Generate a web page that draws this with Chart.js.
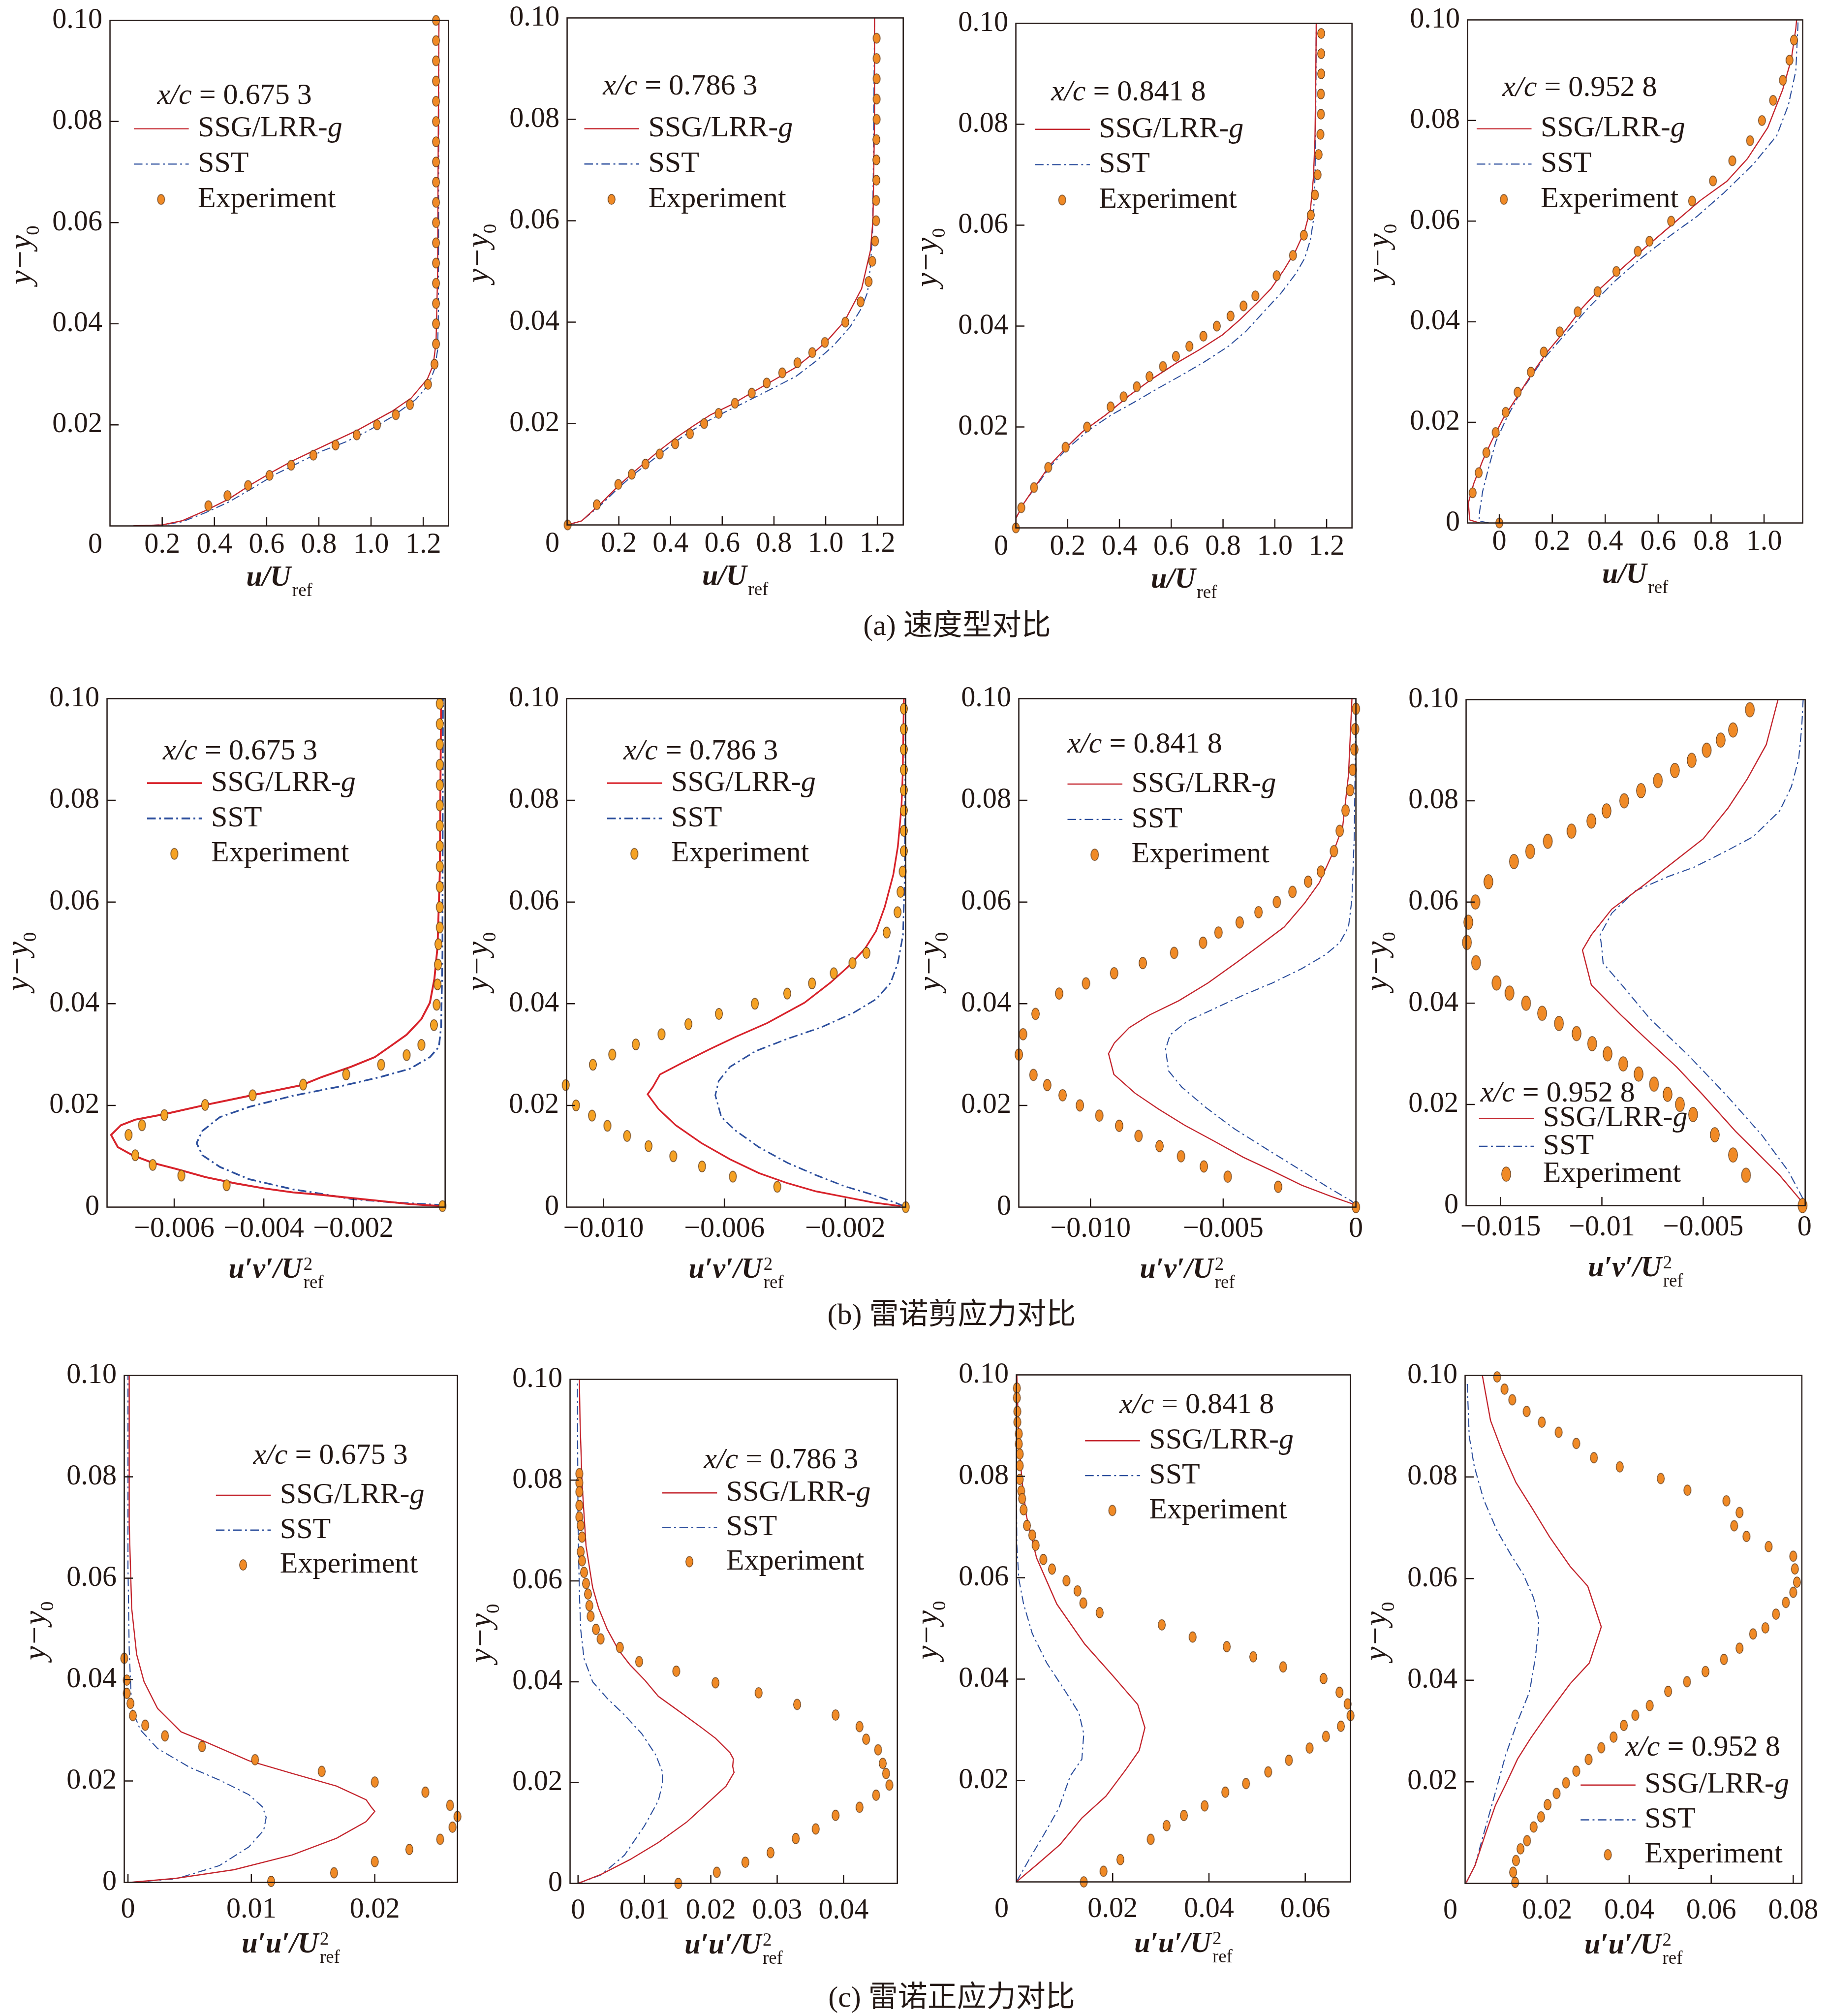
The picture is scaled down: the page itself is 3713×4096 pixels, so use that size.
<!DOCTYPE html>
<html>
<head>
<meta charset="utf-8">
<script src="https://cdn.jsdelivr.net/npm/chart.js@4.4.0/dist/chart.umd.min.js"></script>
<style>
html, body { margin: 0; padding: 0; background: #fff; }
body { width: 3713px; height: 4096px; position: relative; overflow: hidden; }
canvas { position: absolute; }
.cap { position: absolute; transform: translate(-50%, -50%); white-space: nowrap; line-height: 1;
  font-size: 60px; color: #231815; font-family: "Liberation Serif", serif; }
.cap span { font-family: "Noto Sans CJK SC", sans-serif; }
</style>
</head>
<body>
<div class="cap" style="left:1945px;top:1267px">(a) <span>速度型对比</span></div>
<div class="cap" style="left:1934px;top:2667px">(b) <span>雷诺剪应力对比</span></div>
<div class="cap" style="left:1934px;top:4054px">(c) <span>雷诺正应力对比</span></div>
<script>
// x/c stations
const stations = ['0.675 3', '0.786 3', '0.841 8', '0.952 8'];

const yTicks = [0, 0.02, 0.04, 0.06, 0.08, 0.10];
const yLabels = ['0', '0.02', '0.04', '0.06', '0.08', '0.10'];

const xTicksA = [0.2, 0.4, 0.6, 0.8, 1.0, 1.2];
const xLabelsA = ['0.2', '0.4', '0.6', '0.8', '1.0', '1.2'];
const xTicksA4 = [0, 0.2, 0.4, 0.6, 0.8, 1.0];
const xLabelsA4 = ['0', '0.2', '0.4', '0.6', '0.8', '1.0'];
const xTicksB1 = [-0.006, -0.004, -0.002];
const xLabelsB1 = ['\u22120.006', '\u22120.004', '\u22120.002'];
const xTicksB2 = [-0.010, -0.006, -0.002];
const xLabelsB2 = ['\u22120.010', '\u22120.006', '\u22120.002'];
const xTicksB3 = [-0.010, -0.005, 0];
const xLabelsB3 = ['\u22120.010', '\u22120.005', '0'];
const xTicksB4 = [-0.015, -0.01, -0.005, 0];
const xLabelsB4 = ['\u22120.015', '\u22120.01', '\u22120.005', '0'];
const xTicksC1 = [0, 0.01, 0.02];
const xLabelsC1 = ['0', '0.01', '0.02'];
const xTicksC2 = [0, 0.01, 0.02, 0.03, 0.04];
const xLabelsC2 = ['0', '0.01', '0.02', '0.03', '0.04'];
const xTicksC3 = [0.02, 0.04, 0.06];
const xLabelsC3 = ['0.02', '0.04', '0.06'];
const xTicksC4 = [0.02, 0.04, 0.06, 0.08];
const xLabelsC4 = ['0.02', '0.04', '0.06', '0.08'];

// (a) velocity profiles u/Uref vs y-y0
const expA1 = [[1.249,0.100],[1.249,0.096],[1.249,0.092],[1.249,0.088],[1.249,0.084],[1.249,0.080],[1.249,0.076],[1.249,0.072],[1.249,0.068],[1.249,0.064],[1.249,0.060],[1.249,0.056],[1.249,0.052],[1.249,0.048],[1.249,0.044],[1.249,0.040],[1.249,0.036],[1.243,0.032],[1.218,0.028],[1.149,0.024],[1.095,0.022],[1.023,0.020],[0.945,0.018],[0.864,0.016],[0.779,0.014],[0.694,0.012],[0.611,0.010],[0.529,0.008],[0.450,0.006],[0.377,0.004]];
const ssgA1 = [[0.09,0],[0.2,0.0002],[0.275,0.001],[0.365,0.003],[0.454,0.0053],[0.544,0.0083],[0.633,0.011],[0.70,0.0129],[0.79,0.0151],[0.868,0.017],[0.947,0.0189],[1.014,0.0208],[1.081,0.0227],[1.154,0.0253],[1.216,0.0291],[1.238,0.0318],[1.249,0.0363],[1.255,0.05],[1.257,0.0726],[1.26,0.1]];
const sstA1 = [[0.09,0],[0.2,0.0002],[0.275,0.0008],[0.365,0.0026],[0.454,0.0047],[0.544,0.0074],[0.633,0.0102],[0.723,0.0125],[0.812,0.0148],[0.902,0.0166],[0.992,0.0189],[1.081,0.0216],[1.171,0.025],[1.221,0.028],[1.243,0.031],[1.255,0.0348],[1.258,0.0424],[1.26,0.1]];

const expA2 = [[1.197,0.096],[1.197,0.092],[1.197,0.088],[1.197,0.084],[1.197,0.080],[1.196,0.076],[1.196,0.072],[1.196,0.068],[1.195,0.064],[1.195,0.060],[1.191,0.056],[1.180,0.052],[1.166,0.048],[1.135,0.044],[1.076,0.040],[0.997,0.036],[0.948,0.034],[0.891,0.032],[0.832,0.030],[0.772,0.028],[0.714,0.026],[0.649,0.024],[0.586,0.022],[0.530,0.020],[0.475,0.018],[0.418,0.016],[0.358,0.014],[0.303,0.012],[0.250,0.010],[0.198,0.008],[0.115,0.004],[0.002,0.000]];
const ssgA2 = [[0,0],[0.056,0.0008],[0.134,0.0044],[0.2,0.0078],[0.266,0.0108],[0.355,0.0146],[0.421,0.0172],[0.487,0.0195],[0.554,0.0217],[0.631,0.0236],[0.708,0.0259],[0.797,0.0285],[0.885,0.0311],[0.951,0.0338],[1.007,0.0364],[1.073,0.0402],[1.139,0.0466],[1.173,0.0541],[1.183,0.0602],[1.189,0.0798],[1.189,0.1]];
const sstA2 = [[0,0],[0.056,0.0008],[0.134,0.0041],[0.2,0.0074],[0.266,0.0103],[0.355,0.0138],[0.443,0.0173],[0.532,0.0202],[0.62,0.0225],[0.708,0.0247],[0.797,0.027],[0.885,0.0293],[0.962,0.0323],[1.029,0.0353],[1.095,0.0391],[1.139,0.0428],[1.162,0.0459],[1.173,0.0511],[1.181,0.0572],[1.184,0.0685],[1.186,0.0798],[1.189,0.1]];

const expA3 = [[1.179,0.098],[1.179,0.094],[1.179,0.090],[1.178,0.086],[1.178,0.082],[1.176,0.078],[1.169,0.074],[1.165,0.070],[1.155,0.066],[1.139,0.062],[1.112,0.058],[1.070,0.054],[1.007,0.050],[0.925,0.046],[0.879,0.044],[0.829,0.042],[0.776,0.040],[0.724,0.038],[0.670,0.036],[0.618,0.034],[0.568,0.032],[0.516,0.030],[0.467,0.028],[0.416,0.026],[0.366,0.024],[0.275,0.020],[0.192,0.016],[0.125,0.012],[0.070,0.008],[0.021,0.004],[0,0]];
const ssgA3 = [[0,0],[0,0.0019],[0.031,0.0049],[0.076,0.0083],[0.132,0.0125],[0.194,0.0159],[0.256,0.019],[0.347,0.0224],[0.437,0.0262],[0.528,0.0296],[0.618,0.0326],[0.708,0.0353],[0.799,0.0383],[0.866,0.0413],[0.934,0.0447],[0.985,0.0474],[1.036,0.0512],[1.081,0.055],[1.115,0.0588],[1.138,0.0633],[1.149,0.0694],[1.155,0.077],[1.158,0.0883],[1.16,0.1]];
const sstA3 = [[0,0],[0,0.0019],[0.031,0.0049],[0.076,0.0081],[0.132,0.0121],[0.194,0.0155],[0.279,0.0193],[0.369,0.0224],[0.46,0.025],[0.55,0.0277],[0.641,0.0303],[0.731,0.033],[0.821,0.036],[0.889,0.039],[0.957,0.0428],[1.025,0.0466],[1.081,0.0504],[1.115,0.0534],[1.138,0.0572],[1.149,0.061],[1.155,0.0694],[1.158,0.0807],[1.16,0.1]];

const expA4 = [[0,0],[-0.101,0.006],[-0.078,0.010],[-0.049,0.014],[-0.014,0.018],[0.024,0.022],[0.069,0.026],[0.119,0.030],[0.168,0.034],[0.228,0.038],[0.296,0.042],[0.371,0.046],[0.442,0.050],[0.523,0.054],[0.567,0.056],[0.649,0.060],[0.728,0.064],[0.807,0.068],[0.880,0.072],[0.947,0.076],[0.992,0.080],[1.034,0.084],[1.071,0.088],[1.096,0.092],[1.113,0.096]];
const ssgA4 = [[-0.074,0],[-0.112,0.0006],[-0.117,0.004],[-0.097,0.0078],[-0.063,0.0124],[-0.03,0.0162],[0.014,0.0207],[0.07,0.0253],[0.126,0.0299],[0.181,0.034],[0.248,0.0382],[0.314,0.0428],[0.381,0.0466],[0.459,0.0504],[0.548,0.0546],[0.648,0.0591],[0.759,0.0641],[0.859,0.0679],[0.937,0.0724],[1.014,0.0786],[1.07,0.0861],[1.103,0.0922],[1.12,0.0983],[1.123,0.1]];
const sstA4 = [[-0.04,0],[-0.077,0.0004],[-0.074,0.0025],[-0.063,0.0063],[-0.041,0.0109],[-0.013,0.0162],[0.026,0.0207],[0.081,0.0261],[0.159,0.0321],[0.248,0.0375],[0.337,0.0428],[0.437,0.0481],[0.537,0.0527],[0.648,0.0572],[0.748,0.061],[0.848,0.0656],[0.959,0.0713],[1.048,0.077],[1.092,0.0831],[1.12,0.0899],[1.128,0.099],[1.128,0.1]];

// (b) Reynolds shear stress u'v'/Uref^2
const expB1 = [[-0.00007,0.099],[-0.00007,0.095],[-0.00007,0.091],[-0.00007,0.087],[-0.00007,0.083],[-0.00007,0.079],[-0.00007,0.075],[-0.00007,0.071],[-0.00007,0.067],[-0.00007,0.063],[-0.00007,0.059],[-0.00007,0.055],[-0.0001,0.0517],[-0.00011,0.0477],[-0.00012,0.0438],[-0.00014,0.0398],[-0.0002,0.0358],[-0.00048,0.0319],[-0.00081,0.0299],[-0.00138,0.028],[-0.00216,0.0261],[-0.00312,0.0241],[-0.00425,0.022],[-0.00531,0.0201],[-0.00622,0.0181],[-0.00672,0.0161],[-0.00702,0.0142],[-0.00687,0.0102],[-0.00648,0.0083],[-0.00584,0.0062],[-0.00483,0.0043],[-0.00001,0.0002]];
const ssgB1 = [[-0.00003,0.0002],[-0.00074,0.0006],[-0.00139,0.0012],[-0.00205,0.0018],[-0.0027,0.0024],[-0.00335,0.0029],[-0.004,0.0037],[-0.00465,0.0047],[-0.0053,0.0059],[-0.00595,0.0075],[-0.00648,0.0087],[-0.00693,0.0102],[-0.00726,0.0118],[-0.00741,0.0142],[-0.00719,0.0161],[-0.00687,0.0172],[-0.00621,0.0183],[-0.0053,0.0201],[-0.00426,0.022],[-0.00315,0.024],[-0.0027,0.0256],[-0.00205,0.0276],[-0.00152,0.0295],[-0.00113,0.0319],[-0.00081,0.0339],[-0.00048,0.037],[-0.00029,0.0402],[-0.00019,0.0449],[-0.00012,0.0512],[-0.00007,0.0654],[-0.00004,0.0992]];
const sstB1 = [[0,0.0004],[-0.00107,0.0009],[-0.00205,0.0016],[-0.0027,0.0026],[-0.00335,0.0035],[-0.00433,0.0055],[-0.00498,0.0079],[-0.00537,0.0102],[-0.0055,0.0126],[-0.00537,0.015],[-0.00498,0.0177],[-0.00433,0.0197],[-0.00335,0.0219],[-0.00237,0.0236],[-0.00139,0.0256],[-0.00074,0.0272],[-0.00029,0.0295],[-0.00009,0.0315],[-0.00004,0.0354],[-0.00001,0.0496],[0,0.1]];

const expB2 = [[-0.00006,0.098],[-0.00006,0.094],[-0.00006,0.090],[-0.00006,0.086],[-0.00006,0.082],[-0.00006,0.078],[-0.00006,0.074],[-0.00006,0.070],[-0.0001,0.066],[-0.00017,0.062],[-0.00027,0.058],[-0.00063,0.054],[-0.0013,0.050],[-0.00176,0.048],[-0.00238,0.046],[-0.0031,0.044],[-0.00392,0.042],[-0.00499,0.040],[-0.00618,0.038],[-0.00719,0.036],[-0.00808,0.034],[-0.00893,0.032],[-0.00971,0.030],[-0.01035,0.028],[-0.01125,0.024],[-0.01091,0.020],[-0.01038,0.018],[-0.00987,0.016],[-0.00922,0.014],[-0.00851,0.012],[-0.00769,0.010],[-0.00674,0.008],[-0.00572,0.006],[-0.00425,0.004],[0,0]];
const ssgB2 = [[-0.00017,0.0002],[-0.00107,0.0009],[-0.00202,0.002],[-0.00297,0.0031],[-0.00391,0.0047],[-0.00486,0.0067],[-0.00581,0.0094],[-0.00676,0.0126],[-0.00761,0.0161],[-0.00818,0.0193],[-0.00854,0.0222],[-0.00837,0.0236],[-0.00813,0.0261],[-0.00742,0.0283],[-0.00647,0.0311],[-0.00562,0.0335],[-0.00458,0.0362],[-0.00335,0.0402],[-0.0025,0.0441],[-0.00192,0.0472],[-0.00135,0.0508],[-0.00098,0.0543],[-0.00069,0.0591],[-0.00041,0.0654],[-0.00026,0.0709],[-0.00014,0.0787],[-0.0001,0.085],[-0.00006,0.1]];
const sstB2 = [[-0.00007,0.0002],[-0.00031,0.0008],[-0.00107,0.0024],[-0.00202,0.0041],[-0.00297,0.0063],[-0.00391,0.0087],[-0.00486,0.0118],[-0.00562,0.015],[-0.0061,0.0177],[-0.0063,0.022],[-0.00619,0.0248],[-0.00581,0.0276],[-0.00496,0.0307],[-0.00391,0.0331],[-0.00278,0.0354],[-0.00173,0.0382],[-0.00098,0.0409],[-0.0005,0.0441],[-0.00026,0.048],[-0.00009,0.0535],[-0.00003,0.0654],[0,0.1]];

const expB3 = [[0,0.098],[-0.00003,0.094],[-0.00006,0.090],[-0.00012,0.086],[-0.00022,0.082],[-0.00039,0.078],[-0.00061,0.074],[-0.00083,0.070],[-0.00132,0.066],[-0.0018,0.064],[-0.00239,0.062],[-0.00298,0.060],[-0.00367,0.058],[-0.00438,0.056],[-0.00518,0.054],[-0.00576,0.052],[-0.00685,0.050],[-0.00803,0.048],[-0.00911,0.046],[-0.01017,0.044],[-0.01118,0.042],[-0.01207,0.038],[-0.01254,0.034],[-0.0127,0.030],[-0.01215,0.026],[-0.01163,0.024],[-0.01105,0.022],[-0.0104,0.020],[-0.00967,0.018],[-0.00892,0.016],[-0.00819,0.014],[-0.0074,0.012],[-0.00659,0.010],[-0.00573,0.008],[-0.00483,0.006],[-0.00293,0.004],[0,0]];
const ssgB3 = [[0,0.0004],[-0.00093,0.0021],[-0.00204,0.0043],[-0.00314,0.0071],[-0.00424,0.0098],[-0.00535,0.013],[-0.00645,0.0161],[-0.00744,0.0193],[-0.00832,0.0224],[-0.00912,0.0261],[-0.00932,0.0302],[-0.0091,0.0323],[-0.00854,0.0353],[-0.00777,0.0378],[-0.00667,0.0406],[-0.00557,0.0441],[-0.00447,0.0482],[-0.00369,0.0512],[-0.0027,0.0551],[-0.00193,0.0598],[-0.00138,0.0638],[-0.00083,0.0701],[-0.0005,0.0748],[-0.00028,0.085],[-0.00015,0.1]];
const sstB3 = [[0,0.0004],[-0.00017,0.0012],[-0.00105,0.0039],[-0.00215,0.0075],[-0.00336,0.0114],[-0.00458,0.0154],[-0.00568,0.0197],[-0.00656,0.0236],[-0.00706,0.0268],[-0.00717,0.0311],[-0.007,0.0339],[-0.00634,0.0366],[-0.00535,0.039],[-0.00424,0.0417],[-0.00314,0.0441],[-0.00204,0.0469],[-0.00116,0.0496],[-0.00061,0.052],[-0.00028,0.0551],[-0.00015,0.0606],[-0.00006,0.0732],[0,0.1]];

const expB4 = [[-0.0027,0.098],[-0.00353,0.094],[-0.00414,0.092],[-0.00483,0.090],[-0.00557,0.088],[-0.0064,0.086],[-0.00724,0.084],[-0.00807,0.082],[-0.0089,0.080],[-0.00977,0.078],[-0.01052,0.076],[-0.0115,0.074],[-0.01267,0.072],[-0.01354,0.070],[-0.01434,0.068],[-0.0156,0.064],[-0.01624,0.060],[-0.01659,0.056],[-0.01666,0.052],[-0.01621,0.048],[-0.0152,0.044],[-0.01456,0.042],[-0.01374,0.040],[-0.01295,0.038],[-0.01212,0.036],[-0.01125,0.034],[-0.01048,0.032],[-0.00972,0.030],[-0.00895,0.028],[-0.00819,0.026],[-0.00743,0.024],[-0.00676,0.022],[-0.00615,0.020],[-0.0055,0.018],[-0.00443,0.014],[-0.00353,0.010],[-0.00289,0.006],[-0.0001,0]];
const ssgB4 = [[-0.00007,0.0005],[-0.00123,0.006],[-0.00341,0.0147],[-0.005,0.0218],[-0.00631,0.0274],[-0.00791,0.0333],[-0.00907,0.0377],[-0.01052,0.0436],[-0.01096,0.0505],[-0.01052,0.0535],[-0.00951,0.0586],[-0.00791,0.0634],[-0.00653,0.0677],[-0.005,0.0725],[-0.00377,0.0786],[-0.00283,0.0843],[-0.00189,0.0911],[-0.00131,0.1]];
const sstB4 = [[-0.00007,0.0013],[-0.0008,0.0068],[-0.0021,0.0139],[-0.00385,0.0218],[-0.00573,0.0297],[-0.00762,0.0369],[-0.00893,0.0432],[-0.00994,0.0479],[-0.01001,0.0511],[-0.01009,0.0535],[-0.00951,0.0578],[-0.00835,0.0622],[-0.00675,0.065],[-0.00544,0.0669],[-0.00385,0.0701],[-0.00254,0.0729],[-0.00123,0.078],[-0.00065,0.0828],[-0.00029,0.0883],[-0.00014,0.0946],[-0.00007,0.1]];

// (c) Reynolds normal stress u'u'/Uref^2
const expC1 = [[-0.0003,0.0442],[-0.0001,0.0399],[-0.0001,0.0373],[0.0002,0.0353],[0.0004,0.0329],[0.0014,0.031],[0.003,0.0289],[0.006,0.0268],[0.0103,0.0242],[0.0157,0.0219],[0.02,0.0198],[0.0241,0.0178],[0.0261,0.0152],[0.0267,0.013],[0.0263,0.0109],[0.0253,0.0085],[0.0228,0.0065],[0.02,0.0041],[0.0167,0.0019],[0.0116,0.0002]];
const ssgC1 = [[0.0002,0],[0.0039,0.0008],[0.0086,0.0025],[0.0133,0.0054],[0.0169,0.0087],[0.0193,0.012],[0.02,0.014],[0.0197,0.0149],[0.0193,0.0163],[0.0169,0.019],[0.0133,0.0215],[0.0098,0.024],[0.0062,0.0278],[0.0043,0.0297],[0.0024,0.0343],[0.0013,0.0396],[0.0007,0.045],[0.0003,0.0541],[0.0001,0.0706],[0.0001,0.1]];
const sstC1 = [[0.0002,0],[0.0039,0.0007],[0.0074,0.0033],[0.0098,0.007],[0.011,0.0103],[0.0112,0.0128],[0.0109,0.0149],[0.0098,0.0173],[0.0074,0.0202],[0.005,0.0227],[0.0024,0.0264],[0.001,0.0301],[0.0003,0.0343],[0.0001,0.0458],[0,0.0623],[0,0.1]];

const expC2 = [[0.0002,0.0813],[0.0002,0.0795],[0.0002,0.0777],[0.0002,0.075],[0.0002,0.0727],[0.0004,0.071],[0.0006,0.0687],[0.0004,0.0658],[0.0006,0.064],[0.0009,0.0617],[0.0012,0.0595],[0.0015,0.0574],[0.0017,0.0551],[0.0019,0.053],[0.0027,0.0504],[0.0034,0.0485],[0.0063,0.0468],[0.0092,0.044],[0.0148,0.0421],[0.0207,0.0398],[0.0272,0.0378],[0.033,0.0355],[0.0388,0.0334],[0.0424,0.0311],[0.0434,0.0286],[0.0452,0.0265],[0.0459,0.0238],[0.0464,0.0218],[0.0469,0.0195],[0.0449,0.0175],[0.0424,0.0151],[0.0388,0.0135],[0.0358,0.0108],[0.0328,0.0089],[0.029,0.0061],[0.0252,0.0042],[0.0209,0.0022],[0.0151,0]];
const ssgC2 = [[0,0],[0.0035,0.0018],[0.0078,0.0047],[0.0121,0.0081],[0.0164,0.0122],[0.0199,0.0164],[0.0223,0.0193],[0.0235,0.022],[0.0233,0.0232],[0.0234,0.0247],[0.0229,0.0259],[0.0207,0.0288],[0.0186,0.0309],[0.0156,0.0338],[0.0121,0.0371],[0.01,0.0404],[0.0078,0.0434],[0.0061,0.0463],[0.0044,0.0504],[0.0031,0.0546],[0.0022,0.0587],[0.0012,0.067],[0.0006,0.0795],[0.0003,0.0919],[0.0002,0.1]];
const sstC2 = [[0,0],[0.0035,0.0017],[0.007,0.0056],[0.01,0.0114],[0.0121,0.0164],[0.0127,0.0197],[0.0127,0.0222],[0.0117,0.0255],[0.0096,0.0297],[0.007,0.0334],[0.0044,0.0367],[0.0022,0.04],[0.0009,0.0446],[0.0004,0.0504],[0.0002,0.0579],[0,0.0712],[-0.0001,0.1]];

const expC3 = [[0.0001,0.0974],[0.0001,0.0955],[0.0002,0.0928],[0.0002,0.0907],[0.0005,0.0884],[0.0005,0.0864],[0.0007,0.0844],[0.0007,0.0821],[0.0007,0.0794],[0.001,0.0771],[0.0012,0.0756],[0.0015,0.0734],[0.0022,0.0703],[0.0033,0.0684],[0.004,0.0664],[0.0056,0.0636],[0.0074,0.0617],[0.0104,0.0594],[0.0127,0.0574],[0.0139,0.055],[0.0173,0.0531],[0.0302,0.0507],[0.0366,0.0483],[0.0437,0.0464],[0.0492,0.0444],[0.0554,0.0424],[0.0638,0.0401],[0.0671,0.0374],[0.0688,0.0351],[0.0694,0.0328],[0.0674,0.0307],[0.0643,0.0287],[0.0609,0.0264],[0.0566,0.024],[0.0523,0.0217],[0.0477,0.0194],[0.0434,0.0177],[0.0391,0.015],[0.0348,0.0131],[0.0312,0.0111],[0.0279,0.0084],[0.0216,0.0044],[0.0181,0.0021],[0.014,0]];
const ssgC3 = [[0,0],[0.0045,0.0036],[0.0091,0.0074],[0.0136,0.0126],[0.0186,0.0169],[0.0227,0.0221],[0.0255,0.0259],[0.0267,0.0304],[0.0252,0.035],[0.02,0.0407],[0.0142,0.0469],[0.0084,0.0548],[0.0042,0.0639],[0.0021,0.0721],[0.0012,0.0788],[0.0005,0.087],[0.0001,0.1]];
const sstC3 = [[0,0],[0.0027,0.0045],[0.0057,0.0093],[0.0088,0.0145],[0.0112,0.0209],[0.0136,0.0242],[0.014,0.0292],[0.013,0.0333],[0.0103,0.0374],[0.0063,0.0432],[0.0033,0.049],[0.0015,0.0548],[0.0005,0.0598],[0.0001,0.0664],[0,0.08],[0,0.1]];

const expC4 = [[0.0078,0.0997],[0.0096,0.0973],[0.0115,0.0952],[0.015,0.0929],[0.0187,0.0908],[0.0228,0.0888],[0.0271,0.0866],[0.0314,0.0838],[0.0377,0.082],[0.0477,0.0797],[0.0542,0.0774],[0.0637,0.0753],[0.0669,0.073],[0.0656,0.0704],[0.0686,0.0683],[0.074,0.0663],[0.08,0.0644],[0.0804,0.0619],[0.0809,0.0593],[0.08,0.0573],[0.0782,0.0553],[0.0758,0.053],[0.0732,0.0503],[0.0702,0.0491],[0.0669,0.0463],[0.0631,0.0441],[0.0586,0.0417],[0.0541,0.0397],[0.0495,0.0378],[0.045,0.035],[0.0415,0.0331],[0.0387,0.0311],[0.0362,0.0288],[0.0332,0.0267],[0.0301,0.0244],[0.0271,0.0221],[0.0246,0.0198],[0.0223,0.0177],[0.0201,0.0155],[0.0185,0.0131],[0.0167,0.0111],[0.0151,0.0084],[0.0135,0.0068],[0.0124,0.0045],[0.0117,0.0022],[0.0122,0.0002]];
const ssgC4 = [[0.0003,0.0002],[0.0024,0.0035],[0.0049,0.0096],[0.0074,0.0154],[0.0099,0.0195],[0.0128,0.0245],[0.016,0.0286],[0.0199,0.0331],[0.0256,0.0393],[0.0303,0.0434],[0.0332,0.0505],[0.0299,0.0585],[0.0256,0.0624],[0.0206,0.0682],[0.0163,0.0739],[0.0124,0.0789],[0.0092,0.0847],[0.0062,0.0911],[0.0042,0.1]];
const sstC4 = [[0.0003,0.0002],[0.0024,0.0035],[0.0042,0.0088],[0.0071,0.0171],[0.0099,0.0253],[0.0128,0.0319],[0.0157,0.0377],[0.0171,0.0443],[0.0179,0.05],[0.0179,0.0521],[0.0167,0.0562],[0.0142,0.0608],[0.0113,0.0645],[0.0078,0.0694],[0.0045,0.0756],[0.0022,0.0822],[0.001,0.088],[0.0005,0.0987]];

// ---------------------------------------------------------------
const S = 0.97;
const INK = '#231815';
const BLUE = '#2d4f9d';
const SERIF = '"Liberation Serif", "Times New Roman", serif';
const font = (px, style) => (style ? style + ' ' : '') + (px * S).toFixed(1) + 'px ' + SERIF;

const rowStyle = {
  a: { tickOff: 40, titleOff: 125, yOff: -38, xName: 'u/U', sup: '' },
  b: { tickOff: 47, titleOff: 148, yOff: 18, xName: 'u\u2032v\u2032/U', sup: '2' },
  c: { tickOff: 58, titleOff: 147, yOff: 4, xName: 'u\u2032u\u2032/U', sup: '2' }
};

// box: plot area in reference pixels [left, top, right, bottom]; leg: [titleX, titleY, lineX, row1Y, rowStep]
const panels = [
  { row: 'a', st: 0, exp: expA1, ssg: ssgA1, sst: sstA1, box: [230, 31, 939, 1102], xr: [0, 1.297], xt: xTicksA, xl: xLabelsA, corner: true, leg: [329, 202, 280, 270, 74], lw: 2.5, dot: [16, 22] },
  { row: 'a', st: 1, exp: expA2, ssg: ssgA2, sst: sstA2, box: [1188, 26, 1892, 1100], xr: [0, 1.3], xt: xTicksA, xl: xLabelsA, corner: true, leg: [1263, 182, 1224, 270, 74], lw: 2.5, dot: [16, 22] },
  { row: 'a', st: 2, exp: expA3, ssg: ssgA3, sst: sstA3, box: [2128, 37, 2832, 1106], xr: [0, 1.298], xt: xTicksA, xl: xLabelsA, corner: true, leg: [2202, 194, 2168, 271, 74], lw: 2.5, dot: [16, 22] },
  { row: 'a', st: 3, exp: expA4, ssg: ssgA4, sst: sstA4, box: [3075, 30, 3777, 1096], xr: [-0.12, 1.146], xt: xTicksA4, xl: xLabelsA4, corner: false, leg: [3148, 185, 3094, 270, 74], lw: 2.5, dot: [16, 22] },
  { row: 'b', st: 0, exp: expB1, ssg: ssgB1, sst: sstB1, box: [224, 1451, 932, 2528], xr: [-0.0075, 0.00005], xt: xTicksB1, xl: xLabelsB1, corner: false, leg: [341, 1574, 308, 1640, 74], lw: 4, dot: [16, 24], fill: '#f5a224', red: '#d8232b' },
  { row: 'b', st: 1, exp: expB2, ssg: ssgB2, sst: sstB2, box: [1187, 1451, 1897, 2528], xr: [-0.01122, 0], xt: xTicksB2, xl: xLabelsB2, corner: false, leg: [1306, 1574, 1272, 1640, 74], lw: 3.5, dot: [16, 24], fill: '#f5a224', red: '#d8232b' },
  { row: 'b', st: 2, exp: expB3, ssg: ssgB3, sst: sstB3, box: [2135, 1451, 2841, 2528], xr: [-0.0127, 0], xt: xTicksB3, xl: xLabelsB3, corner: false, leg: [2237, 1560, 2237, 1642, 74], lw: 2.5, dot: [17, 25] },
  { row: 'b', st: 3, exp: expB4, ssg: ssgB4, sst: sstB4, box: [3072, 1453, 3782, 2525], xr: [-0.0167, 0.00003], xt: xTicksB4, xl: xLabelsB4, corner: false, leg: [3102, 2291, 3099, 2342, 58.5], lw: 2.5, dot: [20, 31] },
  { row: 'c', st: 0, exp: expC1, ssg: ssgC1, sst: sstC1, box: [260, 2869, 958, 3943], xr: [-0.0003, 0.0267], xt: xTicksC1, xl: xLabelsC1, corner: false, leg: [530, 3050, 452, 3132, 73], lw: 2.5, dot: [16, 23] },
  { row: 'c', st: 1, exp: expC2, ssg: ssgC2, sst: sstC2, box: [1194, 2877, 1880, 3945], xr: [-0.0012, 0.0481], xt: xTicksC2, xl: xLabelsC2, corner: false, leg: [1474, 3059, 1387, 3127, 72], lw: 2.5, dot: [16, 23] },
  { row: 'c', st: 2, exp: expC3, ssg: ssgC3, sst: sstC3, box: [2129, 2868, 2829, 3942], xr: [0, 0.0694], xt: xTicksC3, xl: xLabelsC3, corner: true, leg: [2345, 2944, 2273, 3018, 73], lw: 2.5, dot: [16, 23] },
  { row: 'c', st: 3, exp: expC4, ssg: ssgC4, sst: sstC4, box: [3070, 2869, 3778, 3945], xr: [0, 0.0821], xt: xTicksC4, xl: xLabelsC4, corner: true, leg: [3406, 3661, 3312, 3739, 73], lw: 2.5, dot: [16, 23] }
];

const PAD_L = 215, PAD_T = 40, PAD_R = 55, PAD_B = 185;

function makeDot(w, h, fill) {
  const c = document.createElement('canvas');
  c.width = Math.ceil(w * S) + 2;
  c.height = Math.ceil(h * S) + 2;
  const g = c.getContext('2d');
  g.beginPath();
  g.ellipse(c.width / 2, c.height / 2, w * S / 2 - 0.5, h * S / 2 - 0.5, 0, 0, Math.PI * 2);
  g.fillStyle = fill;
  g.fill();
  g.lineWidth = 1.2;
  g.strokeStyle = '#5a3414';
  g.stroke();
  return c;
}

function panelPlugin(p, dotImg, dash, red) {
  const rs = rowStyle[p.row];
  const cL = p.box[0] - PAD_L, cT = p.box[1] - PAD_T;
  const X = v => (v - cL) * S, Y = v => (v - cT) * S;
  return {
    id: 'panelDeco',
    afterDraw(chart) {
      const ctx = chart.ctx, a = chart.chartArea;
      const xs = chart.scales.x, ys = chart.scales.y;
      ctx.save();
      ctx.strokeStyle = INK;
      ctx.fillStyle = INK;
      ctx.lineWidth = 2.6 * S;
      // inward tick marks
      const tl = 18 * S;
      ctx.beginPath();
      p.xt.forEach(v => {
        const px = xs.getPixelForValue(v);
        if (px > a.left + 3 && px < a.right - 3) { ctx.moveTo(px, a.bottom); ctx.lineTo(px, a.bottom - tl); }
      });
      yTicks.forEach(v => {
        const py = ys.getPixelForValue(v);
        if (py > a.top + 3 && py < a.bottom - 3) { ctx.moveTo(a.left, py); ctx.lineTo(a.left + tl, py); }
      });
      ctx.stroke();
      ctx.strokeRect(a.left, a.top, a.right - a.left, a.bottom - a.top);

      // corner zero shared by both axes
      if (p.corner) {
        ctx.font = font(60);
        ctx.textAlign = 'right';
        ctx.textBaseline = 'middle';
        ctx.fillText('0', a.left - 16 * S, a.bottom + rs.tickOff * S);
      }

      // x axis title
      ctx.textAlign = 'left';
      ctx.textBaseline = 'alphabetic';
      ctx.font = font(60, 'italic bold');
      const wm = ctx.measureText(rs.xName).width;
      ctx.font = font(38);
      const wr = ctx.measureText('ref').width;
      const x0 = (a.left + a.right) / 2 - (wm + 3 * S + wr) / 2;
      const base = a.bottom + rs.titleOff * S;
      ctx.font = font(60, 'italic bold');
      ctx.fillText(rs.xName, x0, base);
      ctx.font = font(38);
      if (rs.sup) ctx.fillText(rs.sup, x0 + wm + 3 * S, base - 17 * S);
      ctx.fillText('ref', x0 + wm + 3 * S, base + 22 * S);

      // y axis title (rotated)
      ctx.save();
      ctx.translate(a.left - 175 * S, (a.top + a.bottom) / 2 + rs.yOff * S);
      ctx.rotate(-Math.PI / 2);
      ctx.font = font(66, 'italic');
      const wy = ctx.measureText('y\u2212y').width;
      ctx.font = font(40);
      const w0 = ctx.measureText('0').width;
      const sx = -(wy + w0) / 2;
      ctx.font = font(66, 'italic');
      ctx.fillText('y\u2212y', sx, 8 * S);
      ctx.font = font(40);
      ctx.fillText('0', sx + wy, 26 * S);
      ctx.restore();

      // legend block
      const [tx, ty, lx, ry, dy] = p.leg;
      ctx.textBaseline = 'middle';
      ctx.font = font(62, 'italic');
      ctx.fillText('x/c', X(tx), Y(ty));
      const wxc = ctx.measureText('x/c').width;
      ctx.font = font(62);
      ctx.fillText(' = ' + stations[p.st], X(tx) + wxc, Y(ty));

      const r1 = Y(ry), r2 = Y(ry + dy), r3 = Y(ry + 2 * dy);
      ctx.lineWidth = p.lw * S;
      ctx.strokeStyle = red;
      ctx.beginPath(); ctx.moveTo(X(lx), r1); ctx.lineTo(X(lx + 115), r1); ctx.stroke();
      ctx.strokeStyle = BLUE;
      ctx.setLineDash(dash);
      ctx.beginPath(); ctx.moveTo(X(lx), r2); ctx.lineTo(X(lx + 115), r2); ctx.stroke();
      ctx.setLineDash([]);
      ctx.drawImage(dotImg, X(lx + 57) - dotImg.width / 2, r3 - dotImg.height / 2);

      const tx2 = X(lx + 134);
      ctx.fillStyle = INK;
      ctx.font = font(62);
      ctx.fillText('SSG/LRR-', tx2, r1);
      const wssg = ctx.measureText('SSG/LRR-').width;
      ctx.font = font(62, 'italic');
      ctx.fillText('g', tx2 + wssg, r1);
      ctx.font = font(62);
      ctx.fillText('SST', tx2, r2);
      ctx.fillText('Experiment', tx2, r3);
      ctx.restore();
    }
  };
}

function buildPanel(p) {
  const rs = rowStyle[p.row];
  const cL = p.box[0] - PAD_L, cT = p.box[1] - PAD_T;
  const cR = p.box[2] + PAD_R, cB = p.box[3] + PAD_B;
  const w = Math.round((cR - cL) * S), h = Math.round((cB - cT) * S);
  const cv = document.createElement('canvas');
  cv.width = w; cv.height = h;
  cv.style.width = w + 'px'; cv.style.height = h + 'px';
  cv.style.left = (cL * S).toFixed(1) + 'px';
  cv.style.top = (cT * S).toFixed(1) + 'px';
  document.body.appendChild(cv);

  const red = p.red || '#c4262e';
  const dotImg = makeDot(p.dot[0], p.dot[1], p.fill || '#f08a26');
  const dash = [18 * S, 7 * S, 4 * S, 7 * S];

  new Chart(cv, {
    type: 'scatter',
    data: {
      datasets: [
        { label: 'Experiment', data: p.exp, showLine: false, pointStyle: dotImg, pointRadius: 8, order: 0, clip: false },
        { label: 'SSG/LRR-g', data: p.ssg, showLine: true, borderColor: red, borderWidth: p.lw * S, pointRadius: 0, tension: 0, order: 1 },
        { label: 'SST', data: p.sst, showLine: true, borderColor: BLUE, borderWidth: p.lw * 0.9 * S, borderDash: dash, pointRadius: 0, tension: 0, order: 2 }
      ]
    },
    options: {
      responsive: false,
      animation: false,
      devicePixelRatio: 1,
      layout: { autoPadding: false, padding: { top: PAD_T * S, right: PAD_R * S, left: 0, bottom: 0 } },
      plugins: { legend: { display: false }, tooltip: { enabled: false } },
      scales: {
        x: {
          type: 'linear', min: p.xr[0], max: p.xr[1],
          grid: { display: false, drawTicks: false },
          border: { display: false },
          afterBuildTicks: s => { s.ticks = p.xt.map(v => ({ value: v })); },
          afterFit: s => { s.height = PAD_B * S; },
          ticks: {
            autoSkip: false, maxRotation: 0, minRotation: 0,
            padding: (rs.tickOff - 36) * S,
            color: INK, font: { family: SERIF, size: 60 * S },
            callback: (v, i) => p.xl[i]
          }
        },
        y: {
          type: 'linear', min: 0, max: 0.1,
          grid: { display: false, drawTicks: false },
          border: { display: false },
          afterBuildTicks: s => { s.ticks = yTicks.map(v => ({ value: v })); },
          afterFit: s => { s.width = PAD_L * S; },
          ticks: {
            autoSkip: false, padding: 16 * S,
            color: INK, font: { family: SERIF, size: 60 * S },
            callback: (v, i) => (i === 0 && p.corner) ? '' : yLabels[i]
          }
        }
      }
    },
    plugins: [panelPlugin(p, dotImg, dash, red)]
  });
}

panels.forEach(buildPanel);
</script>
</body>
</html>
